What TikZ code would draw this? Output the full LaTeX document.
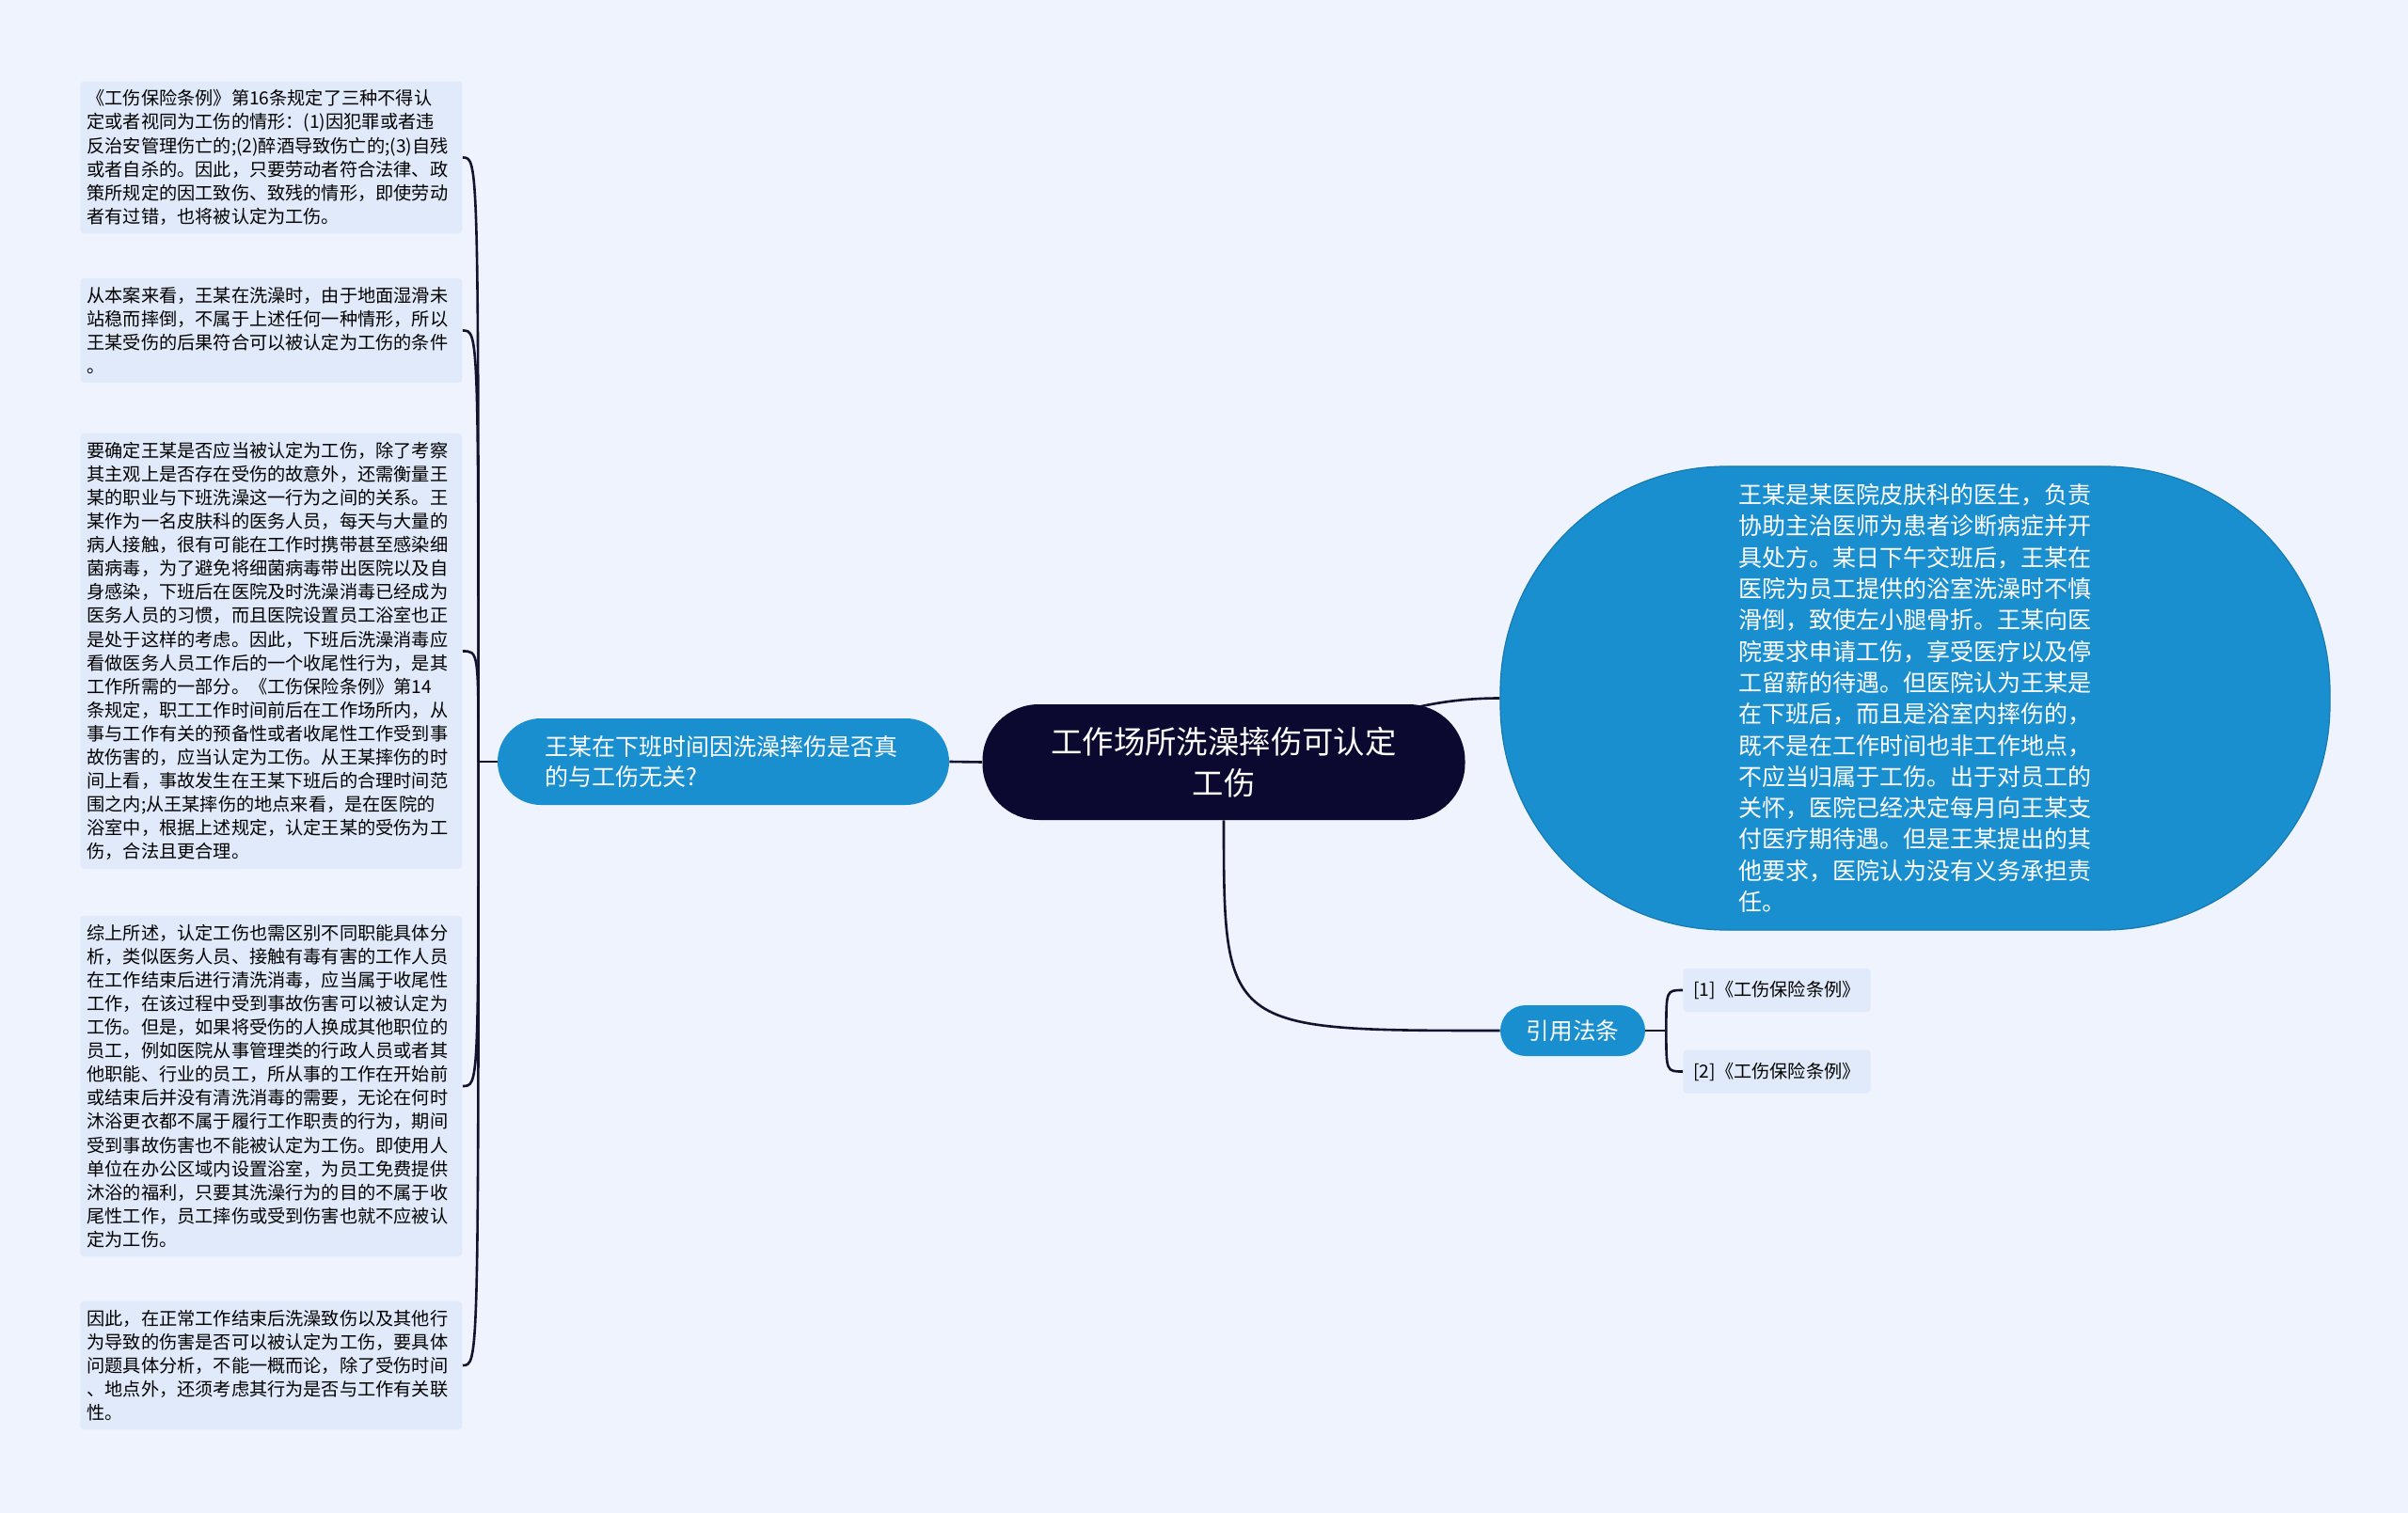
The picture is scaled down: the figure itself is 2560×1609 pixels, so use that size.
\documentclass[tikz,border=0pt]{standalone}
\usepackage{fontspec}
\setmainfont{Noto Sans CJK SC}
\usepackage{tikz}
\usetikzlibrary{positioning,calc}

\definecolor{paper}{HTML}{EEF3FD}
\definecolor{notefill}{HTML}{E1EAFA}
\definecolor{inkblue}{HTML}{1A8FD0}
\definecolor{navy}{HTML}{0B0930}
\definecolor{wirecol}{HTML}{14122E}

\pgfdeclarelayer{paperlayer}
\pgfdeclarelayer{wirelayer}
\pgfsetlayers{paperlayer,wirelayer,main}

\begin{document}
\begin{tikzpicture}[x=0.5pt,y=-0.5pt,
	note/.style={fill=notefill,rounded corners=2pt,anchor=west,text width=196pt,
		inner xsep=3.5pt,inner ysep=4.5pt,align=left,
		font=\fontsize{9.6pt}{12.55pt}\selectfont},
	topic/.style={fill=inkblue,text=white},
	wire/.style={draw=wirecol,line width=1.3pt}]

	\begin{pgfonlayer}{paperlayer}
		\fill[paper] (0,0) rectangle (2560,1609);
	\end{pgfonlayer}
	\useasboundingbox (0,0) rectangle (2560,1609);

	% main topic and its children
	\node[fill=navy,text=white,rounded corners=30pt,minimum width=256.5pt,minimum height=61.5pt,
		text width=200pt,align=center,font=\fontsize{16.7pt}{22pt}\selectfont] (root) at (1301,810.5)
		{工作场所洗澡摔伤可认定\\工伤};
	\node[topic,rounded corners=23pt,minimum width=240pt,minimum height=46pt,text width=190pt,
		align=left,font=\fontsize{12.5pt}{16.35pt}\selectfont] (why) at (769,810)
		{王某在下班时间因洗澡摔伤是否真\\的与工伤无关?};
	\node[topic,draw=inkblue!85!black,line width=0.6pt,rounded corners=120pt,minimum width=441pt,
		minimum height=246.5pt,text width=188pt,align=left,
		font=\fontsize{12.5pt}{16.65pt}\selectfont] (case) at (2036,742.5)
		{王某是某医院皮肤科的医生，负责\\协助主治医师为患者诊断病症并开\\具处方。某日下午交班后，王某在\\医院为员工提供的浴室洗澡时不慎\\滑倒，致使左小腿骨折。王某向医\\院要求申请工伤，享受医疗以及停\\工留薪的待遇。但医院认为王某是\\在下班后，而且是浴室内摔伤的，\\既不是在工作时间也非工作地点，\\不应当归属于工伤。出于对员工的\\关怀，医院已经决定每月向王某支\\付医疗期待遇。但是王某提出的其\\他要求，医院认为没有义务承担责\\任。};
	\node[topic,rounded corners=13.5pt,minimum width=77pt,minimum height=27pt,
		font=\fontsize{12.3pt}{15pt}\selectfont] (cite) at (1672,1096) {引用法条};

	% cited laws
	\node[fill=notefill,rounded corners=2pt,anchor=west,minimum width=99pt,minimum height=23pt,
		inner xsep=5.5pt,font=\fontsize{9.6pt}{12pt}\selectfont] (ref1) at (1789,1053) {[1]《工伤保险条例》};
	\node[fill=notefill,rounded corners=2pt,anchor=west,minimum width=99pt,minimum height=23pt,
		inner xsep=5.5pt,font=\fontsize{9.6pt}{12pt}\selectfont] (ref2) at (1789,1139.5) {[2]《工伤保险条例》};

	% notes on the left
	\node[note] (n1) at (85,167.5) {《工伤保险条例》第16条规定了三种不得认\\定或者视同为工伤的情形：(1)因犯罪或者违\\反治安管理伤亡的;(2)醉酒导致伤亡的;(3)自残\\或者自杀的。因此，只要劳动者符合法律、政\\策所规定的因工致伤、致残的情形，即使劳动\\者有过错，也将被认定为工伤。};
	\node[note] (n2) at (85,351.5) {从本案来看，王某在洗澡时，由于地面湿滑未\\站稳而摔倒，不属于上述任何一种情形，所以\\王某受伤的后果符合可以被认定为工伤的条件\\。};
	\node[note] (n3) at (85,692.5) {要确定王某是否应当被认定为工伤，除了考察\\其主观上是否存在受伤的故意外，还需衡量王\\某的职业与下班洗澡这一行为之间的关系。王\\某作为一名皮肤科的医务人员，每天与大量的\\病人接触，很有可能在工作时携带甚至感染细\\菌病毒，为了避免将细菌病毒带出医院以及自\\身感染，下班后在医院及时洗澡消毒已经成为\\医务人员的习惯，而且医院设置员工浴室也正\\是处于这样的考虑。因此，下班后洗澡消毒应\\看做医务人员工作后的一个收尾性行为，是其\\工作所需的一部分。《工伤保险条例》第14\\条规定，职工工作时间前后在工作场所内，从\\事与工作有关的预备性或者收尾性工作受到事\\故伤害的，应当认定为工伤。从王某摔伤的时\\间上看，事故发生在王某下班后的合理时间范\\围之内;从王某摔伤的地点来看，是在医院的\\浴室中，根据上述规定，认定王某的受伤为工\\伤，合法且更合理。};
	\node[note] (n4) at (85,1155) {综上所述，认定工伤也需区别不同职能具体分\\析，类似医务人员、接触有毒有害的工作人员\\在工作结束后进行清洗消毒，应当属于收尾性\\工作，在该过程中受到事故伤害可以被认定为\\工伤。但是，如果将受伤的人换成其他职位的\\员工，例如医院从事管理类的行政人员或者其\\他职能、行业的员工，所从事的工作在开始前\\或结束后并没有清洗消毒的需要，无论在何时\\沐浴更衣都不属于履行工作职责的行为，期间\\受到事故伤害也不能被认定为工伤。即使用人\\单位在办公区域内设置浴室，为员工免费提供\\沐浴的福利，只要其洗澡行为的目的不属于收\\尾性工作，员工摔伤或受到伤害也就不应被认\\定为工伤。};
	\node[note] (n5) at (85,1452) {因此，在正常工作结束后洗澡致伤以及其他行\\为导致的伤害是否可以被认定为工伤，要具体\\问题具体分析，不能一概而论，除了受伤时间\\、地点外，还须考虑其行为是否与工作有关联\\性。};

	\coordinate (lhub) at ($(why.west)+(-20,0)$);
	\coordinate (chub) at ($(cite.east)+(22,0)$);

	% connectors
	\begin{pgfonlayer}{wirelayer}
		\draw[wire] (why.east) -- (root.west);
		\draw[wire] (root.center) .. controls ($(root.center)+(100,0)$)
			and ($(root.center |- case.west)+(150,0)$) .. (case.west);
		\draw[wire] (root.south) .. controls (root.south |- cite.west) .. (cite.west);
		\draw[wire] (cite.east) -- (chub);
		\draw[wire] (chub) .. controls (chub |- ref1.west) .. (ref1.west);
		\draw[wire] (chub) .. controls (chub |- ref2.west) .. (ref2.west);
		\draw[wire] (why.west) -- (lhub);
		\foreach \n in {n1,n2,n3,n4,n5}
			\draw[wire] (lhub) .. controls (lhub |- \n.east) .. (\n.east);
	\end{pgfonlayer}
\end{tikzpicture}
\end{document}
